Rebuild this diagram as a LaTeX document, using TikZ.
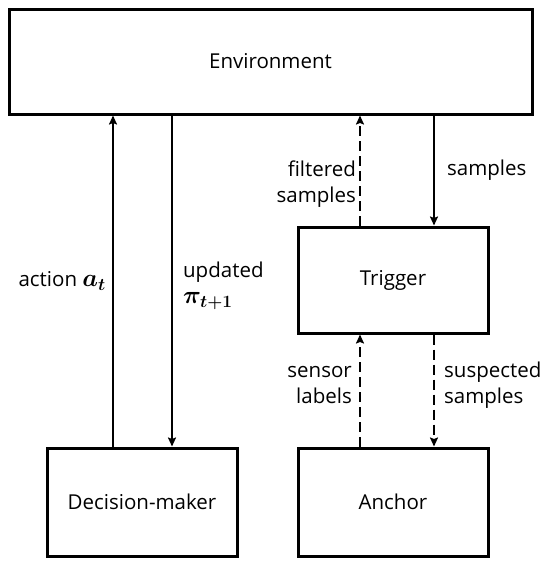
\documentclass[tikz,border=0pt]{standalone}
\usepackage{fontspec}
\setmainfont{Open Sans}
\usepackage{bm}
\usetikzlibrary{arrows.meta}
\begin{document}
\begin{tikzpicture}[x=1pt,y=-1pt,
  box/.style={draw,line width=3pt,inner sep=0pt,font=\fontsize{20.5}{26}\selectfont},
  arr/.style={line width=2.3pt,-{Stealth[length=9pt,width=8pt,inset=1.5pt]}},
  dsh/.style={arr,dash pattern=on 10pt off 5pt},
  lbl/.style={inner sep=0pt,font=\fontsize{20.5}{26}\selectfont}]
\useasboundingbox (0,0) rectangle (550,566);
\node[box,minimum width=523pt,minimum height=105pt] (env) at (270.5,61.5) {Environment};
\node[box,minimum width=190pt,minimum height=106pt] (trig) at (393,280) {Trigger};
\node[box,minimum width=190pt,minimum height=108pt] (dm) at (142,502) {Decision-maker};
\node[box,minimum width=190pt,minimum height=108pt] (anc) at (393,502) {Anchor};
\draw[arr] ([xshift=-29pt]dm.north) -- ([xshift=-29pt]dm.north |- env.south)
  node[lbl,midway,left=6pt] {action {\fontsize{23}{26}\selectfont$\bm{a_t}$}};
\draw[arr] ([xshift=30pt]dm.north |- env.south) -- ([xshift=30pt]dm.north)
  node[lbl,pos=0.515,right=10pt,align=left] {updated\\{\fontsize{23}{26}\selectfont$\bm{\pi_{t+1}}$}};
\draw[dsh] ([xshift=-33pt]trig.north) -- ([xshift=-33pt]trig.north |- env.south)
  node[lbl,pos=0.38,left=3pt,align=right] {filtered\\samples};
\draw[arr] ([xshift=41pt]trig.north |- env.south) -- ([xshift=41pt]trig.north)
  node[lbl,midway,right=12pt] {samples};
\draw[dsh] ([xshift=-33pt]anc.north) -- ([xshift=-33pt]trig.south)
  node[lbl,pos=0.55,left=7pt,align=right] {sensor\\labels};
\draw[dsh] ([xshift=41pt]trig.south) -- ([xshift=41pt]anc.north)
  node[lbl,pos=0.45,right=9pt,align=left] {suspected\\samples};
\end{tikzpicture}
\end{document}
